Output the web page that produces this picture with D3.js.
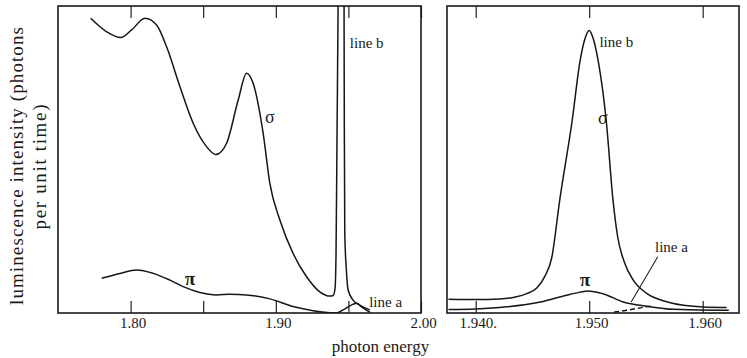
<!DOCTYPE html>
<html>
<head>
<meta charset="utf-8">
<script src="https://cdn.jsdelivr.net/npm/d3@7"></script>
<style>
  body { margin: 0; background: #fff; }
  svg { display: block; }
  text { font-family: "Liberation Serif", "DejaVu Serif", serif; fill: #1a1a1a; }
</style>
</head>
<body>
<div id="chart"></div>
<script>
// tick values and labels for both panels
var leftTicks = [1.80, 1.85, 1.90, 1.95, 2.00];
var leftTickLabels = ["1.80", "", "1.90", "", "2.00"];
var rightTicks = [1.940, 1.950, 1.960];
var rightTickLabels = ["1.940.", "1.950", "1.960"];

// left panel: [photon energy, intensity (arb.)]
var sigmaLeft = [
  [1.7725, 96.0], [1.7835, 91.6], [1.7932, 89.7], [1.8007, 92.2], [1.8099, 96.0],
  [1.8179, 93.8], [1.8248, 86.7], [1.8340, 73.7], [1.8431, 61.8], [1.8523, 54.2],
  [1.8587, 51.6], [1.8661, 55.3], [1.8741, 69.4], [1.8799, 78.1], [1.8844, 74.8],
  [1.8913, 58.5], [1.8959, 42.2], [1.9028, 30.3], [1.9119, 19.4], [1.9212, 11.8],
  [1.9303, 6.9], [1.9372, 5.5], [1.9395, 5.7], [1.9408, 8], [1.9415, 20],
  [1.9422, 60], [1.9429, 100], [1.9449, 400], [1.9470, 100], [1.9472, 60],
  [1.9475, 26], [1.9486, 14], [1.9498, 7.5], [1.9532, 4.2], [1.9578, 2.6], [1.9647, 1.0]
];
var piLeft = [
  [1.7801, 11.3], [1.7927, 12.9], [1.8042, 14.0], [1.8156, 12.9], [1.8271, 10.7],
  [1.8362, 8.6], [1.8477, 6.7], [1.8592, 5.9], [1.8684, 6.1], [1.8799, 5.9],
  [1.8959, 4.6], [1.9119, 2.1], [1.9257, 0.75], [1.9372, 0.1], [1.9440, 0]
];
var lineALeft = [
  [1.9425, 0], [1.9470, 1.2], [1.9530, 2.8], [1.9556, 3.2], [1.9590, 2.0], [1.9650, 0.2]
];

// right panel
var sigmaRight = [
  [1.9376, 4.5], [1.9400, 4.4], [1.9421, 4.6], [1.9435, 5.2], [1.9445, 6.3],
  [1.9454, 8.2], [1.9461, 12.0], [1.9467, 18.0], [1.9474, 36.7], [1.9485, 62.7],
  [1.9492, 82.2], [1.9496, 89], [1.9500, 92], [1.9503, 90], [1.9508, 82],
  [1.9515, 62.7], [1.9521, 36.7], [1.9525, 25], [1.9531, 16.5], [1.9539, 10.6],
  [1.9551, 6.3], [1.9569, 3.6], [1.9589, 2.3], [1.9618, 1.8], [1.9621, 1.8]
];
var piRight = [
  [1.9376, 1.1], [1.9400, 1.3], [1.9427, 2.0], [1.9457, 3.6], [1.9480, 5.8],
  [1.9492, 6.8], [1.9499, 7.2], [1.9512, 6.3], [1.9530, 3.6], [1.9551, 2.2],
  [1.9574, 1.2], [1.9618, 0.9], [1.9623, 0.9]
];
var lineARight = [
  [1.9522, 0.3], [1.9535, 1.0], [1.9550, 2.0], [1.9556, 2.3]
];

var W = 747, H = 358;
var plotTop = 6, plotBottom = 313;
var serif = "'Liberation Serif', 'DejaVu Serif', serif";

var svg = d3.select("#chart").append("svg")
  .attr("width", W).attr("height", H);

var y = d3.scaleLinear().domain([0, 100]).range([plotBottom, plotTop]);
var xL = d3.scaleLinear().domain([1.75, 2.00]).range([58, 421]);
var xR = d3.scaleLinear().domain([1.93747, 1.9632]).range([447, 739]);

function panel(id, x, ticks, labels) {
  var g = svg.append("g");
  g.append("clipPath").attr("id", id)
    .append("rect")
      .attr("x", x.range()[0]).attr("y", plotTop)
      .attr("width", x.range()[1] - x.range()[0]).attr("height", plotBottom - plotTop);

  // bottom ticks point inward, labels below
  var bot = g.append("g")
    .attr("transform", "translate(0," + plotBottom + ")")
    .call(d3.axisBottom(x).tickValues(ticks).tickSize(-12).tickPadding(4)
      .tickFormat(function(d, i) { return labels[i]; }));
  bot.attr("font-family", serif);
  bot.select(".domain").remove();
  bot.selectAll("line").attr("stroke", "#222").attr("stroke-width", 1.2);
  bot.selectAll("text").attr("font-size", 15).attr("fill", "#1a1a1a")
    .attr("dx", 2);

  var tp = g.append("g")
    .attr("transform", "translate(0," + plotTop + ")")
    .call(d3.axisTop(x).tickValues(ticks).tickSize(-12).tickFormat(""));
  tp.select(".domain").remove();
  tp.selectAll("line").attr("stroke", "#222").attr("stroke-width", 1.2);

  g.append("rect")
    .attr("x", x.range()[0]).attr("y", plotTop)
    .attr("width", x.range()[1] - x.range()[0]).attr("height", plotBottom - plotTop)
    .attr("fill", "none").attr("stroke", "#1a1a1a").attr("stroke-width", 1.6);

  return g;
}

function curve(g, id, x, data, dash) {
  var line = d3.line()
    .x(function(d) { return x(d[0]); })
    .y(function(d) { return y(d[1]); })
    .curve(d3.curveMonotoneX);
  g.append("path")
    .datum(data)
    .attr("clip-path", "url(#" + id + ")")
    .attr("d", line)
    .attr("fill", "none")
    .attr("stroke", "#161616")
    .attr("stroke-width", 1.5)
    .attr("stroke-dasharray", dash || null);
}

var gL = panel("clipL", xL, leftTicks, leftTickLabels);
curve(gL, "clipL", xL, sigmaLeft);
curve(gL, "clipL", xL, piLeft);
curve(gL, "clipL", xL, lineALeft);

var gR = panel("clipR", xR, rightTicks, rightTickLabels);
curve(gR, "clipR", xR, sigmaRight);
curve(gR, "clipR", xR, piRight);
curve(gR, "clipR", xR, lineARight, "5,3");

// annotations
function label(x, px, py, txt, size, anchor, weight) {
  svg.append("text")
    .attr("x", x(px)).attr("y", y(py))
    .attr("font-family", serif)
    .attr("font-size", size)
    .attr("font-weight", weight || null)
    .attr("text-anchor", anchor || "start")
    .text(txt);
}
label(xL, 1.9510, 86.3, "line b", 15);
label(xL, 1.8959, 61.9, "σ", 18, "middle");
label(xL, 1.8408, 9.1, "π", 19, "middle", "bold");
label(xL, 1.9643, 2.05, "line a", 15);

label(xR, 1.9509, 86.6, "line b", 15);
label(xR, 1.9512, 61.5, "σ", 18, "middle");
label(xR, 1.94963, 8.8, "π", 19, "middle", "bold");
label(xR, 1.9558, 20, "line a", 15);

svg.append("line")
  .attr("x1", xR(1.95604)).attr("y1", y(18.3))
  .attr("x2", xR(1.95370)).attr("y2", y(3.6))
  .attr("stroke", "#222").attr("stroke-width", 1.1);

// axis titles
svg.append("text")
  .attr("x", 380.5).attr("y", 352)
  .attr("font-family", serif)
  .attr("text-anchor", "middle")
  .attr("font-size", 17)
  .text("photon energy");

svg.append("text")
  .attr("transform", "translate(23,166) rotate(-90)")
  .attr("font-family", serif)
  .attr("text-anchor", "middle")
  .attr("font-size", 19)
  .attr("textLength", 278)
  .attr("lengthAdjust", "spacing")
  .text("luminescence intensity (photons");

svg.append("text")
  .attr("transform", "translate(46,167) rotate(-90)")
  .attr("font-family", serif)
  .attr("text-anchor", "middle")
  .attr("font-size", 19)
  .attr("textLength", 125)
  .attr("lengthAdjust", "spacing")
  .text("per unit time)");
</script>
</body>
</html>
